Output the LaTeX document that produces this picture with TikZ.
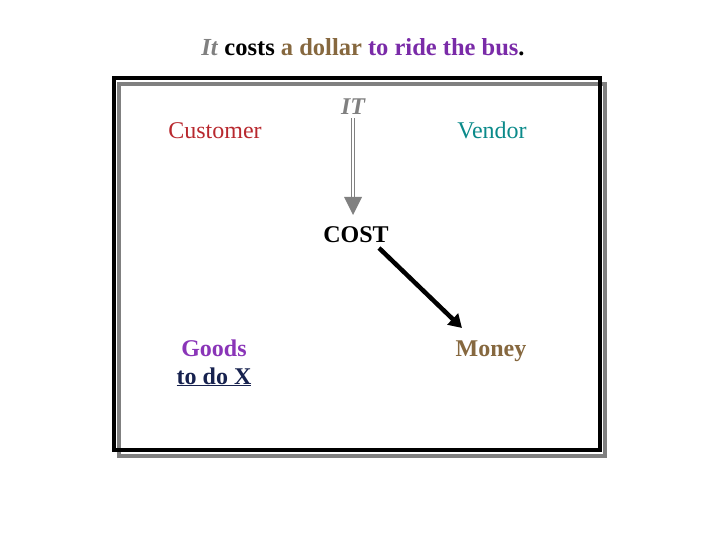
\documentclass[tikz,border=0pt]{standalone}
\usepackage{fontspec}
\setmainfont{Liberation Serif}
\usetikzlibrary{arrows.meta,calc}
\definecolor{ctitlepurple}{HTML}{7A2BA8}
\definecolor{cbrown}{HTML}{86683F}
\definecolor{cred}{HTML}{B8282E}
\definecolor{cteal}{HTML}{0A8A8A}
\definecolor{cgoods}{HTML}{8A35B8}
\definecolor{cnavy}{HTML}{17224F}
\definecolor{cgray}{HTML}{808080}
\tikzset{
  lbl/.style={inner sep=0pt, anchor=base, font=\fontsize{24}{28}\selectfont},
  blbl/.style={lbl, font=\fontsize{24}{28}\selectfont\bfseries},
  framebox/.style={line width=4.5pt},
}
\begin{document}
\begin{tikzpicture}[x=1pt,y=-1pt]
\useasboundingbox (0,0) rectangle (720,540);
% frame
\draw[framebox, cgray] (119,84) rectangle (605,456);
\draw[framebox, black] (114,78) rectangle (600,450);
% title
\node[blbl, font=\fontsize{24.5}{28}\selectfont\bfseries] (title) at (363,56)
  {\textcolor{cgray}{\textit{It}} costs \textcolor{cbrown}{a dollar} \textcolor{ctitlepurple}{to ride the bus}.};
% labels
\node[lbl, text=cred] (cust) at (215,139) {Customer};
\node[blbl, text=cgray, font=\fontsize{24}{28}\selectfont\bfseries\itshape] (it) at (353,115) {IT};
\node[lbl, text=cteal] (vend) at (492,139) {Vendor};
\node[blbl] (cost) at (356,243) {COST};
\node[blbl, text=cgoods] (goods) at (214,356) {Goods};
\node[blbl, text=cnavy] (todo) at (214,384) {\underline{to do X}};
\node[blbl, text=cbrown] (money) at (491,356) {Money};
% IT -> COST gray double arrow
\coordinate (tipA) at (353,215);
\coordinate (baseA) at (353,197);
\draw[cgray, line width=1.3pt, double=white, double distance=1.5pt] ($(it.south)+(0,3)$) -- (baseA);
\fill[cgray] (tipA) -- ($(baseA)+(-9,0)$) -- ($(baseA)+(9,0)$) -- cycle;
% COST -> Money black arrow
\coordinate (startB) at (379,248);
\coordinate (endB) at (462,328);
\draw[line width=4.5pt, -{Triangle[width=15pt,length=13pt]}] (startB) -- (endB);
\end{tikzpicture}
\end{document}
